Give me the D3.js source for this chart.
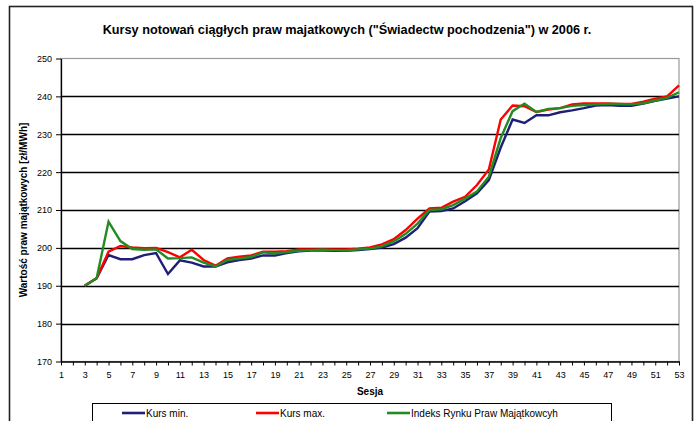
<!DOCTYPE html>
<html>
<head>
<meta charset="utf-8">
<script src="https://cdn.jsdelivr.net/npm/d3@7"></script>
<style>
  html, body { margin: 0; padding: 0; background: #fff; }
  svg { display: block; font-family: "Liberation Sans", Arial, sans-serif; }
</style>
</head>
<body>
<svg id="chart" width="696" height="421"></svg>
<script>
const sessions = d3.range(3, 54);
const kursMin = [190, 192, 198.1, 197.0, 197.0, 198.1, 198.6, 193.1, 196.7, 196.1, 195.1, 195.1, 196.2, 196.8, 197.2, 198.0, 198.0, 198.6, 199.1, 199.3, 199.3, 199.2, 199.2, 199.4, 199.7, 200.1, 201.0, 202.7, 205.2, 209.6, 209.7, 210.4, 212.3, 214.4, 217.9, 226.5, 233.9, 233.0, 235.0, 235.0, 235.8, 236.3, 236.9, 237.6, 237.7, 237.5, 237.5, 238.1, 238.8, 239.4, 240.0];
const kursMax = [190, 192, 199.0, 200.5, 200.1, 199.9, 200.0, 198.9, 197.5, 199.5, 196.8, 195.3, 197.2, 197.7, 198.0, 199.0, 199.0, 199.1, 199.6, 199.6, 199.6, 199.6, 199.6, 199.8, 200.1, 200.9, 202.3, 204.7, 207.7, 210.4, 210.6, 212.2, 213.5, 216.6, 220.7, 233.9, 237.6, 237.4, 235.9, 236.5, 236.9, 237.9, 238.1, 238.1, 238.1, 238.0, 238.0, 238.6, 239.4, 240.0, 242.9];
const indeks = [190, 192, 206.9, 201.8, 199.7, 199.5, 199.6, 197.2, 197.3, 197.5, 196.1, 195.1, 196.8, 197.2, 197.6, 198.8, 198.5, 198.9, 199.2, 199.4, 199.5, 199.4, 199.3, 199.6, 199.8, 200.4, 201.7, 203.7, 206.4, 210.0, 210.2, 211.3, 213.0, 214.9, 218.8, 229.0, 236.1, 238.1, 235.9, 236.7, 236.9, 237.5, 237.7, 237.9, 238.0, 238.0, 237.9, 238.2, 238.9, 239.6, 241.1];
const yTicks = [170, 180, 190, 200, 210, 220, 230, 240, 250];
const xTicks = d3.range(1, 54);
const seriesNames = ["Kurs min.", "Kurs max.", "Indeks Rynku Praw Majątkowcyh"];
const seriesColors = ["#1f1f78", "#ff0000", "#228b22"];
const titleText = 'Kursy notowań ciągłych praw majatkowych ("Świadectw pochodzenia") w 2006 r.';
const yTitle = "Wartość praw majątkowych [zł/MWh]";
const xTitle = "Sesja";

(function () {
const svg = d3.select("#chart");
const W = 696, H = 421;
const pL = 61, pR = 679, pT = 58.5, pB = 361.5;

svg.append("rect").attr("width", W).attr("height", H).attr("fill", "#fff");
// outer chart border
svg.append("rect").attr("x", 9.5).attr("y", 6.5).attr("width", 683).attr("height", 430)
  .attr("fill", "none").attr("stroke", "#222").attr("stroke-width", 1.6);

const x = d3.scaleLinear().domain([1, 53]).range([pL, pR]);
const y = d3.scaleLinear().domain([170, 250]).range([pB, pT]);

// title
svg.append("text").attr("x", 347).attr("y", 34).attr("text-anchor", "middle")
  .attr("font-size", 12.7).attr("font-weight", "bold").attr("fill", "#000").text(titleText);

// plot border (gray top/right)
svg.append("rect").attr("x", pL).attr("y", pT).attr("width", pR - pL).attr("height", pB - pT)
  .attr("fill", "none").attr("stroke", "#999").attr("stroke-width", 1.2);

// gridlines
svg.append("g").selectAll("line").data(yTicks.filter(d => d > 170 && d < 250)).join("line")
  .attr("x1", pL).attr("x2", pR).attr("y1", d => Math.round(y(d)) + 0.5).attr("y2", d => Math.round(y(d)) + 0.5)
  .attr("stroke", "#000").attr("stroke-width", 1.3);

// y axis
const yAxis = svg.append("g").attr("transform", `translate(${pL},0)`)
  .call(d3.axisLeft(y).tickValues(yTicks).tickSize(5).tickPadding(4).tickSizeOuter(0));
yAxis.select(".domain").attr("stroke", "#000").attr("stroke-width", 1.3);
yAxis.selectAll(".tick line").attr("stroke", "#000");
yAxis.selectAll("text").attr("font-size", 9).attr("fill", "#000").attr("font-family", "Liberation Sans, Arial, sans-serif");

// x axis
const xAxis = svg.append("g").attr("transform", `translate(0,${pB})`)
  .call(d3.axisBottom(x).tickValues(xTicks).tickSize(4).tickPadding(6).tickSizeOuter(0)
    .tickFormat(d => d % 2 === 1 ? d : ""));
xAxis.select(".domain").attr("stroke", "#000").attr("stroke-width", 1.3);
xAxis.selectAll(".tick line").attr("stroke", "#000");
xAxis.selectAll("text").attr("font-size", 9).attr("fill", "#000").attr("font-family", "Liberation Sans, Arial, sans-serif");

// axis titles
svg.append("text").attr("transform", `translate(27,${(pT + pB) / 2}) rotate(-90)`)
  .attr("text-anchor", "middle").attr("font-size", 10).attr("font-weight", "bold").text(yTitle);
svg.append("text").attr("x", (pL + pR) / 2).attr("y", 395).attr("text-anchor", "middle")
  .attr("font-size", 10).attr("font-weight", "bold").text(xTitle);

// lines
const allSeries = [kursMin, kursMax, indeks];
const line = d3.line().x((d, i) => x(sessions[i])).y(d => y(d));
allSeries.forEach((vals, k) => {
  svg.append("path").datum(vals).attr("d", line)
    .attr("fill", "none").attr("stroke", seriesColors[k]).attr("stroke-width", 2.4)
    .attr("stroke-linejoin", "miter");
});

// legend
const lg = svg.append("g");
lg.append("rect").attr("x", 92.5).attr("y", 403.5).attr("width", 519).attr("height", 30)
  .attr("fill", "#fff").attr("stroke", "#000").attr("stroke-width", 1);
const legX = [122, 256, 387];
seriesNames.forEach((name, k) => {
  lg.append("line").attr("x1", legX[k]).attr("x2", legX[k] + 23).attr("y1", 413).attr("y2", 413)
    .attr("stroke", seriesColors[k]).attr("stroke-width", 2.6);
  lg.append("text").attr("x", legX[k] + 24).attr("y", 416.5).attr("font-size", 10).text(name);
});
})();
</script>
</body>
</html>
